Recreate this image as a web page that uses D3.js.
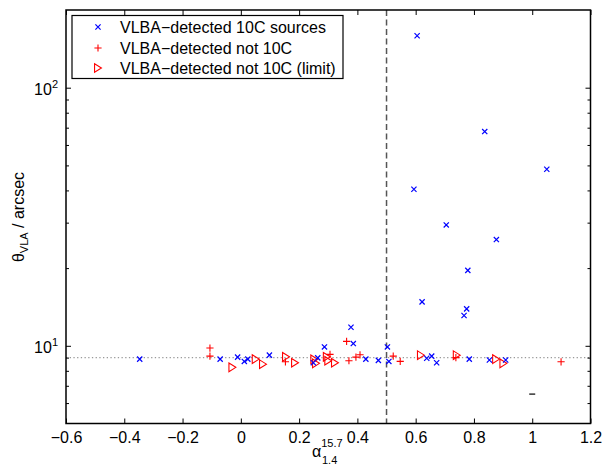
<!DOCTYPE html>
<html>
<head>
<meta charset="utf-8">
<script src="https://cdn.jsdelivr.net/npm/d3@7"></script>
<style>
  body { margin: 0; background: #fff; }
  text { font-family: "Liberation Sans", Arial, sans-serif; }
</style>
</head>
<body>
<div id="chart"></div>
<script>
// VLBA-detected 10C sources (blue x)
const tenCAlpha = [-0.347, -0.071, -0.011, 0.012, 0.024, 0.098, 0.249, 0.264, 0.287, 0.378,
  0.386, 0.429, 0.472, 0.503, 0.508, 0.594, 0.605, 0.622, 0.638, 0.655,
  0.672, 0.705, 0.766, 0.775, 0.779, 0.784, 0.837, 0.853, 0.877, 0.909, 1.05];
const tenCTheta = [8.88, 8.88, 9.04, 8.7, 8.88, 9.2, 8.6, 8.98, 9.9, 11.8,
  10.2, 8.88, 8.78, 9.9, 8.7, 40.4, 159, 14.8, 8.95, 9.12,
  8.6, 29.4, 13.1, 13.9, 19.6, 8.88, 67.6, 8.81, 25.8, 8.81, 48.3];

// VLBA-detected not 10C (red +)
const notTenCAlpha = [-0.106, -0.106, 0.153, 0.306, 0.363, 0.371, 0.395, 0.409, 0.523, 0.547, 0.738, 1.099];
const notTenCTheta = [9.8, 9.12, 8.67, 9.26, 10.4, 8.75, 9.04, 9.23, 9.12, 8.7, 9.0, 8.67];

// VLBA-detected not 10C, limits (red triangles)
const limitAlpha = [-0.029, 0.051, 0.076, 0.155, 0.186, 0.252, 0.258, 0.295, 0.300, 0.323, 0.618, 0.741, 0.876, 0.901];
const limitTheta = [8.25, 8.88, 8.49, 9.06, 8.6, 8.86, 8.55, 9.06, 8.75, 8.6, 9.2, 9.2, 8.88, 8.55];

// lone black marker
const otherAlpha = [1.0];
const otherTheta = [6.5];

const xTicks = [-0.6, -0.4, -0.2, 0, 0.2, 0.4, 0.6, 0.8, 1, 1.2];
const yMajor = [10, 100];
const yMinor = [6, 7, 8, 9, 20, 30, 40, 50, 60, 70, 80, 90];
const alphaCut = 0.5;
const thetaFloor = 9;

const legendLabels = ["VLBA\u2212detected 10C sources", "VLBA\u2212detected not 10C", "VLBA\u2212detected not 10C (limit)"];

const width = 603, height = 465;
const padLeft = 66, padRight = 590.5, padTop = 10, padBottom = 423.5;
const fontSize = 16, smallSize = 11;

const svg = d3.select("#chart").append("svg")
  .attr("width", width)
  .attr("height", height);

const x = d3.scaleLinear().domain([-0.6, 1.2]).range([padLeft, padRight]);
const y = d3.scaleLog().domain([5, 200]).range([padBottom, padTop]);

const blue = "#0000ff", red = "#ff0000";

// reference lines
svg.append("line")
  .attr("x1", x(-0.6)).attr("x2", x(1.2))
  .attr("y1", y(thetaFloor)).attr("y2", y(thetaFloor))
  .attr("stroke", "#9a9a9a").attr("stroke-width", 1.2)
  .attr("stroke-dasharray", "1.3,2.4");

svg.append("line")
  .attr("x1", x(alphaCut)).attr("x2", x(alphaCut))
  .attr("y1", y(200)).attr("y2", y(5))
  .attr("stroke", "#555").attr("stroke-width", 1.5)
  .attr("stroke-dasharray", "6,3.5");

// axes (inward ticks on all four sides)
const fmt = (d) => String(d).replace("-", "\u2212");

svg.append("g")
  .attr("transform", "translate(0," + padBottom + ")")
  .call(d3.axisBottom(x).tickValues(xTicks).tickSize(-5).tickSizeOuter(0).tickPadding(8).tickFormat(fmt));

svg.append("g")
  .attr("transform", "translate(0," + padTop + ")")
  .call(d3.axisTop(x).tickValues(xTicks).tickSize(-5).tickSizeOuter(0).tickFormat(""));

svg.append("g")
  .attr("transform", "translate(" + padLeft + ",0)")
  .call(d3.axisLeft(y).tickValues(yMinor).tickSize(-3).tickSizeOuter(0).tickFormat(""));

const yAxis = svg.append("g")
  .attr("transform", "translate(" + padLeft + ",0)")
  .call(d3.axisLeft(y).tickValues(yMajor).tickSize(-5).tickSizeOuter(0).tickPadding(8).tickFormat(""));

svg.append("g")
  .attr("transform", "translate(" + padRight + ",0)")
  .call(d3.axisRight(y).tickValues(yMinor).tickSize(-3).tickSizeOuter(0).tickFormat(""));

svg.append("g")
  .attr("transform", "translate(" + padRight + ",0)")
  .call(d3.axisRight(y).tickValues(yMajor).tickSize(-5).tickSizeOuter(0).tickFormat(""));

yAxis.selectAll(".tick text").each(function (d) {
  const t = d3.select(this).attr("dy", "0.4em");
  t.append("tspan").text("10");
  t.append("tspan").attr("dy", "-0.6em").attr("font-size", smallSize).text(Math.round(Math.log10(d)));
});

svg.selectAll(".tick text").attr("font-size", fontSize).attr("fill", "#000");
svg.selectAll(".tick line").attr("stroke", "#000");
svg.selectAll(".domain").remove();

// box
svg.append("rect")
  .attr("x", padLeft).attr("y", padTop)
  .attr("width", padRight - padLeft).attr("height", padBottom - padTop)
  .attr("fill", "none").attr("stroke", "#000").attr("stroke-width", 1.5);

// markers
function cross(g, s) {
  g.append("path").attr("d", `M${-s},${-s}L${s},${s}M${-s},${s}L${s},${-s}`)
    .attr("stroke", blue).attr("stroke-width", 1.2).attr("fill", "none");
}
function plus(g, s) {
  g.append("path").attr("d", `M${-s},0L${s},0M0,${-s}L0,${s}`)
    .attr("stroke", red).attr("stroke-width", 1.1).attr("fill", "none");
}
function tri(g, s) {
  g.append("path").attr("d", `M${-s * 0.8},${-s}L${s * 0.8},0L${-s * 0.8},${s}Z`)
    .attr("stroke", red).attr("stroke-width", 1.1).attr("fill", "none");
}

function series(xs, ys, draw, s) {
  svg.append("g").selectAll("g")
    .data(xs.map((a, i) => [a, ys[i]]))
    .enter().append("g")
    .attr("transform", (d) => `translate(${x(d[0])},${y(d[1])})`)
    .each(function () { draw(d3.select(this), s); });
}

series(limitAlpha, limitTheta, tri, 4.3);
series(notTenCAlpha, notTenCTheta, plus, 3.6);
series(tenCAlpha, tenCTheta, cross, 2.6);

svg.append("g").selectAll("line")
  .data(otherAlpha.map((a, i) => [a, otherTheta[i]]))
  .enter().append("line")
  .attr("x1", (d) => x(d[0]) - 3).attr("x2", (d) => x(d[0]) + 3)
  .attr("y1", (d) => y(d[1])).attr("y2", (d) => y(d[1]))
  .attr("stroke", "#000").attr("stroke-width", 1.2);

// legend
const leg = svg.append("g");
leg.append("rect")
  .attr("x", 72).attr("y", 15.5).attr("width", 271).attr("height", 63)
  .attr("fill", "#fff").attr("stroke", "#000").attr("stroke-width", 1.2);
const legY = [27, 48, 68];
const legDraw = [[cross, 2.6], [plus, 3.6], [tri, 4.3]];
legendLabels.forEach((lab, i) => {
  const g = leg.append("g").attr("transform", `translate(98,${legY[i]})`);
  legDraw[i][0](g, legDraw[i][1]);
  leg.append("text").attr("x", 120).attr("y", legY[i] + 6)
    .attr("font-size", fontSize).text(lab);
});

// axis labels
const xl = svg.append("text").attr("x", 312).attr("y", 457).attr("font-size", fontSize);
xl.append("tspan").text("\u03b1");
xl.append("tspan").attr("font-size", smallSize).attr("dy", -10).text("15.7");
xl.append("tspan").attr("font-size", smallSize).attr("x", 322).attr("dy", 17).text("1.4");

const yl = svg.append("text")
  .attr("transform", "translate(24,217) rotate(-90)")
  .attr("text-anchor", "middle").attr("font-size", fontSize);
yl.append("tspan").text("\u03b8");
yl.append("tspan").attr("font-size", smallSize).attr("dy", 4).text("VLA");
yl.append("tspan").attr("dy", -4).text(" / arcsec");
</script>
</body>
</html>
